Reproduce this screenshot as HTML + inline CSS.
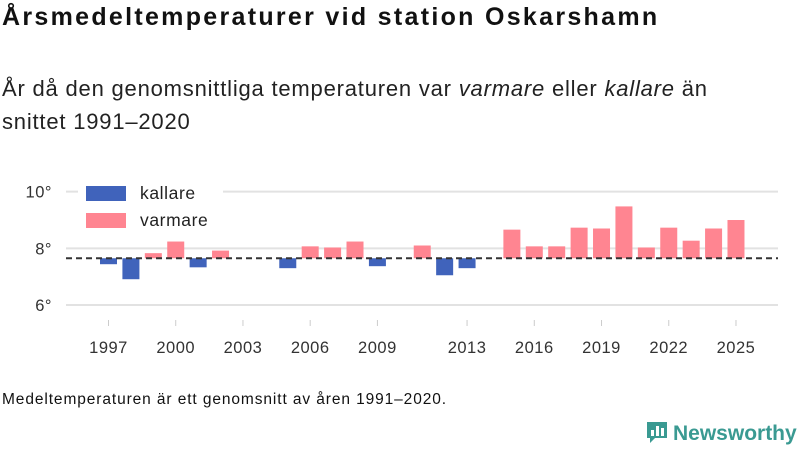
<!DOCTYPE html>
<html><head><meta charset="utf-8">
<style>
body{margin:0;width:800px;height:450px;background:#fff;font-family:"Liberation Sans",sans-serif;color:#111;position:relative;overflow:hidden}
#title{position:absolute;left:2px;top:3px;font-size:25px;font-weight:bold;letter-spacing:2.3px;white-space:nowrap}
#sub{position:absolute;left:2px;top:72px;font-size:22px;letter-spacing:0.8px;line-height:33px;width:740px;color:#222}
#foot{position:absolute;left:2px;top:391px;font-size:15.5px;letter-spacing:0.9px;white-space:nowrap}
#logo{position:absolute;left:645px;top:420px;font-size:21px;color:#3a9a92;font-weight:bold}
</style></head><body>
<div id="title">Årsmedeltemperaturer vid station Oskarshamn</div>
<div id="sub">År då den genomsnittliga temperaturen var <i>varmare</i> eller <i>kallare</i> än snittet 1991–2020</div>
<svg id="chart" width="800" height="450" style="position:absolute;left:0;top:0"></svg>
<div id="foot">Medeltemperaturen är ett genomsnitt av åren 1991–2020.</div>
<div id="logo"><svg width="24" height="24" style="vertical-align:-4px;margin-right:4px"><path d="M2 2h20v16h-12l-5 5v-5h-3z" fill="#3a9a92"/><rect x="6" y="10" width="3" height="6" fill="#fff"/><rect x="11" y="6" width="3" height="10" fill="#fff"/><rect x="16" y="8" width="3" height="8" fill="#fff"/></svg>Newsworthy</div>
<script>
const years=[1997,1998,1999,2000,2001,2002,2005,2006,2007,2008,2009,2011,2012,2013,2015,2016,2017,2018,2019,2020,2021,2022,2023,2024,2025];
const temps=[7.44,6.91,7.83,8.24,7.33,7.92,7.30,8.07,8.03,8.24,7.37,8.1,7.05,7.30,8.66,8.07,8.07,8.73,8.70,9.48,8.03,8.73,8.27,8.70,9.0];
const baseline=7.65;
const yTicks=[6,8,10];
const xTicks=[1997,2000,2003,2006,2009,2013,2016,2019,2022,2025];
const NS="http://www.w3.org/2000/svg";
const svg=document.getElementById('chart');
const x=v=>108.5+(v-1997)*22.41;
const y=v=>305-(v-6)*28.33;
function mk(t,a){const e=document.createElementNS(NS,t);for(const k in a)e.setAttribute(k,a[k]);svg.appendChild(e);return e;}
yTicks.forEach(t=>{
  const l=mk('line',{x1:66,x2:778,y1:y(t),y2:y(t),stroke:'#e2e2e2','stroke-width':2});
  
  
  const tx=mk('text',{x:52,y:y(t)+6,'text-anchor':'end','font-size':16.5,fill:'#333','font-family':'Liberation Sans','letter-spacing':0.5});
  tx.textContent=t+'°';
  
  
});
xTicks.forEach(t=>{
  const tx=mk('text',{x:x(t),y:353,'text-anchor':'middle','font-size':16.5,fill:'#333','font-family':'Liberation Sans','letter-spacing':0.5});
  tx.textContent=t;
  
  
  const tk=mk('line',{x1:x(t),x2:x(t),y1:320,y2:326,stroke:'#ccc','stroke-width':1});
  
  
});
years.forEach((yr,i)=>{
  const v=temps[i],top=y(Math.max(v,baseline)),bot=y(Math.min(v,baseline));
  const r=mk('rect',{x:x(yr)-8.5,y:top,width:17,height:bot-top,fill:v>=baseline?'#ff8591':'#4063bb'});
  
  
});
const bl=mk('line',{x1:66,x2:778,y1:y(baseline),y2:y(baseline),stroke:'#333','stroke-width':2,'stroke-dasharray':'6,4'});


const lg=mk('rect',{x:78,y:183,width:145,height:52,fill:'#fff'});


[['kallare','#4063bb',186],['varmare','#ff8591',213]].forEach(d=>{
  const r=mk('rect',{x:86,y:d[2],width:40,height:15,fill:d[1]});
  
  
  const t=mk('text',{x:140,y:d[2]+13,'font-size':17.5,fill:'#222','font-family':'Liberation Sans','letter-spacing':0.6});
  t.textContent=d[0];
  
  
});
</script>
</body></html>
